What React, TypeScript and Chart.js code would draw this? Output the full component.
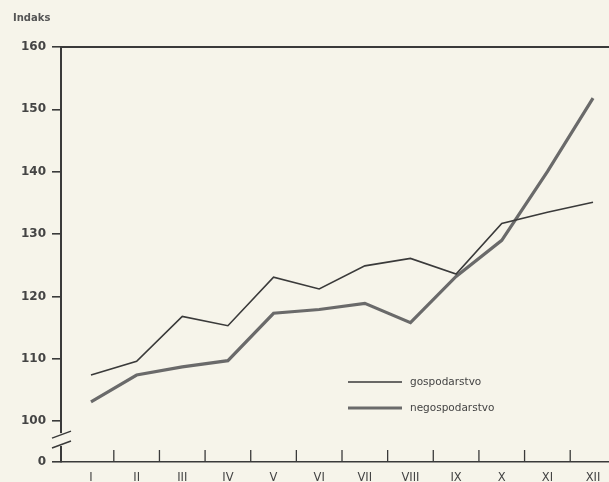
import React, { useEffect, useRef } from "react";
import { Chart, registerables } from "chart.js";

Chart.register(...registerables);

const months = ["I", "II", "III", "IV", "V", "VI", "VII", "VIII", "IX", "X", "XI", "XII"];
const monthIndex = [1, 2, 3, 4, 5, 6, 7, 8, 9, 10, 11, 12];
const gospodarstvo = [107.4, 109.6, 116.8, 115.3, 123.1, 121.2, 124.9, 126.1, 123.6, 131.7, 133.5, 135.1];
const negospodarstvo = [103.1, 107.4, 108.7, 109.7, 117.3, 117.9, 118.9, 115.8, 123.2, 129.0, 140.0, 151.8];
const yTickValues = [100, 110, 120, 130, 140, 150, 160];
const yAxisTitle = "Indaks";
const seriesNames = ["gospodarstvo", "negospodarstvo"];

const PAPER = "#f6f4ea";
const INK = "#3a3a3a";
const Y_BOTTOM = 93.45; // shown as 0 below the axis break

const decorPlugin = {
  id: "decor",
  beforeDraw(chart: any) {
    const { ctx, width, height } = chart;
    ctx.save();
    ctx.fillStyle = PAPER;
    ctx.fillRect(0, 0, width, height);
    ctx.restore();
  },
  afterDraw(chart: any) {
    const { ctx, chartArea } = chart;
    const x = chart.scales.x;
    const y = chart.scales.y;
    ctx.save();
    // top frame line
    ctx.strokeStyle = INK;
    ctx.lineWidth = 2;
    ctx.beginPath();
    ctx.moveTo(chartArea.left - 1, chartArea.top);
    ctx.lineTo(chartArea.right, chartArea.top);
    ctx.stroke();
    // x tick marks between months, pointing up
    ctx.lineWidth = 1.3;
    for (let i = 1; i < months.length; i++) {
      const px = x.getPixelForValue(i + 0.5);
      ctx.beginPath();
      ctx.moveTo(px, chartArea.bottom);
      ctx.lineTo(px, chartArea.bottom - 12);
      ctx.stroke();
    }
    // axis break
    const ax = chartArea.left;
    const yb1 = y.getPixelForValue(100) + 12;
    const yb2 = chartArea.bottom - 16;
    ctx.fillStyle = PAPER;
    ctx.fillRect(ax - 3, yb1, 6, yb2 - yb1);
    ctx.strokeStyle = INK;
    ctx.lineWidth = 1.5;
    ctx.beginPath();
    ctx.moveTo(ax - 9, yb1 + 5);
    ctx.lineTo(ax + 10, yb1 - 2);
    ctx.moveTo(ax - 9, yb2 + 2);
    ctx.lineTo(ax + 10, yb2 - 5);
    ctx.stroke();
    // title
    ctx.fillStyle = "#555";
    ctx.font = "bold 10px 'DejaVu Sans'";
    ctx.textAlign = "left";
    ctx.textBaseline = "middle";
    ctx.fillText(yAxisTitle, 13, 18);
    // legend
    const lx1 = 348;
    const lx2 = 402;
    const rows = [
      { name: seriesNames[0], y: 382, color: INK, w: 1.6 },
      { name: seriesNames[1], y: 408, color: "#6a6a6a", w: 3.2 },
    ];
    ctx.font = "10.5px 'DejaVu Sans'";
    for (const r of rows) {
      ctx.strokeStyle = r.color;
      ctx.lineWidth = r.w;
      ctx.beginPath();
      ctx.moveTo(lx1, r.y);
      ctx.lineTo(lx2, r.y);
      ctx.stroke();
      ctx.fillStyle = "#444";
      ctx.fillText(r.name, 410, r.y);
    }
    ctx.restore();
  },
};

export default function App() {
  const ref = useRef<HTMLCanvasElement | null>(null);
  useEffect(() => {
    document.body.style.margin = "0";
    document.body.style.background = PAPER;
    if (!ref.current) return;
    const chart = new Chart(ref.current, {
      type: "line",
      data: {
        datasets: [
          {
            label: seriesNames[0],
            data: monthIndex.map((m, i) => ({ x: m, y: gospodarstvo[i] })),
            borderColor: INK,
            borderWidth: 1.6,
            pointRadius: 0,
            tension: 0,
          },
          {
            label: seriesNames[1],
            data: monthIndex.map((m, i) => ({ x: m, y: negospodarstvo[i] })),
            borderColor: "#6a6a6a",
            borderWidth: 3.2,
            pointRadius: 0,
            tension: 0,
          },
        ],
      },
      options: {
        animation: false,
        responsive: true,
        maintainAspectRatio: false,
        layout: { padding: { top: 47, left: 0, right: 0, bottom: 0 } },
        plugins: { legend: { display: false }, tooltip: { enabled: false } },
        scales: {
          x: {
            type: "linear",
            min: 0.343,
            max: 12.35,
            afterBuildTicks: (s: any) => {
              s.ticks = monthIndex.map((v) => ({ value: v }));
            },
            afterFit: (s: any) => {
              s.height = 20;
            },
            grid: { display: false },
            border: { display: true, color: INK, width: 1.6 },
            ticks: {
              autoSkip: false,
              maxRotation: 0,
              padding: 1,
              color: "#444",
              font: { family: "'DejaVu Sans'", size: 11.5 },
              callback: (v: any) => months[Math.round(Number(v)) - 1] ?? "",
            },
          },
          y: {
            type: "linear",
            min: Y_BOTTOM,
            max: 160,
            afterBuildTicks: (s: any) => {
              s.ticks = [Y_BOTTOM, ...yTickValues].map((v) => ({ value: v }));
            },
            afterFit: (s: any) => {
              s.width = 61;
            },
            grid: { drawOnChartArea: false, tickLength: 9, color: INK, lineWidth: 1.6 },
            border: { display: true, color: INK, width: 2 },
            ticks: {
              autoSkip: false,
              padding: 6,
              color: "#444",
              font: { family: "'DejaVu Sans'", size: 12, weight: "bold" },
              callback: (v: any) => (Number(v) < 95 ? "0" : String(v)),
            },
          },
        },
      },
      plugins: [decorPlugin],
    });
    return () => chart.destroy();
  }, []);
  return (
    <div style={{ position: "relative", width: 609, height: 482 }}>
      <canvas ref={ref} />
    </div>
  );
}
